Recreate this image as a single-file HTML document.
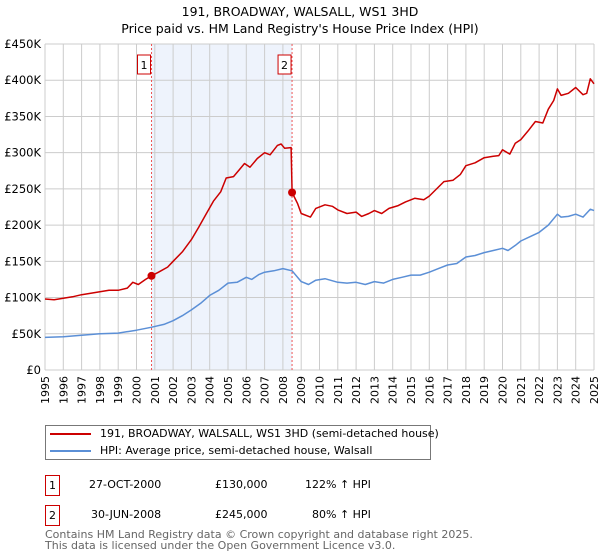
<!DOCTYPE html>
<html><head><meta charset="utf-8"><style>
body{margin:0;width:600px;height:560px;background:#fff;font-family:"DejaVu Sans","Liberation Sans",sans-serif;overflow:hidden;position:relative}
.t{position:absolute;white-space:nowrap}
</style></head><body>
<svg id="chart" width="600" height="420" style="position:absolute;left:0;top:0" font-family="DejaVu Sans, Liberation Sans, sans-serif">
<text x="300" y="16" text-anchor="middle" font-size="12.5">191, BROADWAY, WALSALL, WS1 3HD</text>
<text x="300" y="33" text-anchor="middle" font-size="12.5">Price paid vs. HM Land Registry's House Price Index (HPI)</text>
<g id="grid"></g><g id="axes"></g><g id="series"></g>
</svg>
<div class="t" style="left:45px;top:425px;width:386px;height:35px;border:1px solid #777;box-sizing:border-box"></div>
<div class="t" style="left:50px;top:433px;width:41px;height:2px;background:#cc0000"></div>
<div class="t" style="left:100px;top:427px;font-size:11px">191, BROADWAY, WALSALL, WS1 3HD (semi-detached house)</div>
<div class="t" style="left:50px;top:450px;width:41px;height:2px;background:#5b8fd6"></div>
<div class="t" style="left:100px;top:444px;font-size:11px">HPI: Average price, semi-detached house, Walsall</div>
<div class="t" style="left:45px;top:475px;width:15px;height:21px;border:1px solid #cc0000;box-sizing:border-box;font-size:11px;text-align:center;line-height:19px">1</div>
<div class="t" style="left:89px;top:478px;font-size:11px">27-OCT-2000</div>
<div class="t" style="left:215px;top:478px;font-size:11px">£130,000</div>
<div class="t" style="left:305px;top:478px;font-size:11px">122% ↑ HPI</div>
<div class="t" style="left:45px;top:505px;width:15px;height:21px;border:1px solid #cc0000;box-sizing:border-box;font-size:11px;text-align:center;line-height:19px">2</div>
<div class="t" style="left:91px;top:508px;font-size:11px">30-JUN-2008</div>
<div class="t" style="left:215px;top:508px;font-size:11px">£245,000</div>
<div class="t" style="left:312px;top:508px;font-size:11px">80% ↑ HPI</div>
<div class="t" style="left:45px;top:529px;font-size:11px;color:#666;line-height:11px">Contains HM Land Registry data © Crown copyright and database right 2025.<br>This data is licensed under the Open Government Licence v3.0.</div>
<script>
const yearTicks=[1995,1996,1997,1998,1999,2000,2001,2002,2003,2004,2005,2006,2007,2008,2009,2010,2011,2012,2013,2014,2015,2016,2017,2018,2019,2020,2021,2022,2023,2024,2025];
const priceTicks=[0,50,100,150,200,250,300,350,400,450];
const priceLabels=["£0","£50K","£100K","£150K","£200K","£250K","£300K","£350K","£400K","£450K"];
const hpiYears=[1995,1996,1997,1998,1999,2000,2000.8,2001.5,2002,2002.5,2003,2003.5,2004,2004.5,2005,2005.5,2006,2006.3,2006.7,2007,2007.5,2008,2008.5,2009,2009.4,2009.8,2010.3,2011,2011.5,2012,2012.5,2013,2013.5,2014,2014.5,2015,2015.5,2016,2016.5,2017,2017.5,2018,2018.5,2019,2019.5,2020,2020.3,2020.7,2021,2021.5,2022,2022.5,2023,2023.2,2023.6,2024,2024.4,2024.8,2025];
const hpiValues=[45,46,48,50,51,55,59,63,68,75,83,92,103,110,120,121,128,125,132,135,137,140,137,122,118,124,126,121,120,121,118,122,120,125,128,131,131,135,140,145,147,156,158,162,165,168,165,172,178,184,190,200,215,211,212,215,211,222,220];
const propYears=[1995,1995.5,1996,1996.5,1997,1997.5,1998,1998.5,1999,1999.5,1999.8,2000.1,2000.5,2000.82,2001.2,2001.7,2002,2002.5,2003,2003.4,2003.8,2004.2,2004.6,2004.9,2005.3,2005.6,2005.9,2006.2,2006.6,2007,2007.3,2007.7,2007.9,2008.1,2008.45,2008.5,2008.8,2009,2009.5,2009.8,2010.3,2010.7,2011,2011.5,2012,2012.3,2012.7,2013,2013.4,2013.8,2014.3,2014.7,2015.2,2015.7,2016,2016.4,2016.8,2017.3,2017.7,2018,2018.5,2019,2019.5,2019.8,2020,2020.4,2020.7,2021,2021.4,2021.8,2022.2,2022.5,2022.8,2023,2023.2,2023.6,2024,2024.4,2024.6,2024.8,2025];
const propValues=[98,97,99,101,104,106,108,110,110,113,121,118,125,130,135,142,150,163,180,197,215,233,246,265,267,276,285,280,292,300,297,310,312,306,307,245,230,216,211,223,228,226,221,216,218,212,216,220,216,223,227,232,237,235,240,250,260,262,270,282,286,293,295,296,304,298,313,318,330,343,341,360,372,388,379,382,390,380,382,402,395];
const saleYears=[2000.82,2008.5];
const saleValues=[130,245];
const saleLabels=["1","2"];

const NS="http://www.w3.org/2000/svg";
const X0=45,X1=594,Y0=370,Y1=44;
const xs=y=>X0+(y-1995)/(2025-1995)*(X1-X0);
const ys=v=>Y0-v/450*(Y0-Y1);
function mk(tag,attrs,parent){const e=document.createElementNS(NS,tag);for(const k in attrs)e.setAttribute(k,attrs[k]);parent.appendChild(e);return e;}
const grid=document.getElementById('grid'),axes=document.getElementById('axes'),ser=document.getElementById('series');
const shade=mk('rect',{x:xs(saleYears[0]),y:Y1,width:xs(saleYears[1])-xs(saleYears[0]),height:Y0-Y1,fill:'#eef3fc'},grid);


yearTicks.forEach(y=>{
 const l=mk('line',{x1:xs(y),x2:xs(y),y1:Y1,y2:Y0,stroke:'#cccccc','stroke-width':1},grid);
 
 
 const t=mk('text',{x:0,y:0,'font-size':11,'text-anchor':'end',transform:`translate(${xs(y)+4},${Y0+6}) rotate(-90)`},axes);
 t.textContent=y;
 
 
});
priceTicks.forEach((v,i)=>{
 const l=mk('line',{x1:X0,x2:X1,y1:ys(v),y2:ys(v),stroke:'#cccccc','stroke-width':1},grid);
 
 
 const t=mk('text',{x:X0-4,y:ys(v)+4,'font-size':11.5,'text-anchor':'end'},axes);
 t.textContent=priceLabels[i];
 
 
});
saleYears.forEach((y,i)=>{
 const l=mk('line',{x1:xs(y),x2:xs(y),y1:Y1,y2:Y0,stroke:'#ee5555','stroke-width':1,'stroke-dasharray':'2,2'},ser);
 
 
 const b=mk('rect',{x:xs(y)-14,y:55,width:13,height:19,fill:'#fff',stroke:'#cc0000'},ser);
 
 
 const t=mk('text',{x:xs(y)-7.5,y:69,'font-size':11,'text-anchor':'middle'},ser);
 t.textContent=saleLabels[i];
 
 
});
function path(xsArr,vals,color,name){
 const d=xsArr.map((y,i)=>(i?'L':'M')+xs(y).toFixed(1)+','+ys(vals[i]).toFixed(1)).join('');
 const p=mk('path',{d:d,fill:'none',stroke:color,'stroke-width':1.5,'stroke-linejoin':'round'},ser);
 
 
}
path(hpiYears,hpiValues,'#5b8fd6','hpi-line');
path(propYears,propValues,'#cc0000','property-line');
saleYears.forEach((y,i)=>{
 const c=mk('circle',{cx:xs(y),cy:ys(saleValues[i]),r:4,fill:'#cc0000'},ser);
 
 
});
</script>
</body></html>
